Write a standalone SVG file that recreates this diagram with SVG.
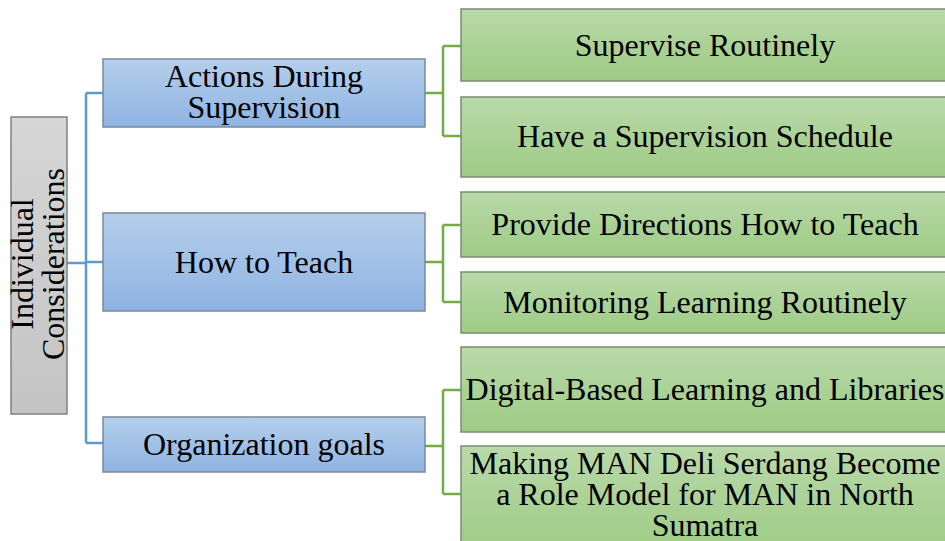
<svg xmlns="http://www.w3.org/2000/svg" width="945" height="541" viewBox="0 0 945 541">
  <defs>
    <linearGradient id="gGray" x1="0" y1="0" x2="0" y2="1">
      <stop offset="0" stop-color="#d6d6d6"/>
      <stop offset="1" stop-color="#c4c4c4"/>
    </linearGradient>
    <linearGradient id="gBlue" x1="0" y1="0" x2="0" y2="1">
      <stop offset="0" stop-color="#b5cfeb"/>
      <stop offset="1" stop-color="#8fb3e2"/>
    </linearGradient>
    <linearGradient id="gGreen" x1="0" y1="0" x2="0" y2="1">
      <stop offset="0" stop-color="#b9d9a9"/>
      <stop offset="1" stop-color="#9ecb84"/>
    </linearGradient>
  </defs>
  <style>
    .lbl { font-family: "Liberation Serif", "Times New Roman", serif; font-size: 32px; fill: #000; text-anchor: middle; }
    .root { fill: url(#gGray); stroke: #808080; stroke-width: 1.5; }
    .mid { fill: url(#gBlue); stroke: #7a8a9a; stroke-width: 1.5; }
    .leaf { fill: url(#gGreen); stroke: #7c8a74; stroke-width: 1.5; }
    .cb { fill: none; stroke: #5b9bd5; stroke-width: 2.5; }
    .cg { fill: none; stroke: #70ad47; stroke-width: 2.5; }
  </style>

  <g id="connectors">
    <path class="cb" d="M67 263 H86 M86 93 V443 M86 93 H103 M86 262 H103 M86 443 H103"/>
    <path class="cg" d="M425 93 H443 M443 46 V136 M443 46 H461 M443 136 H461"/>
    <path class="cg" d="M425 262 H443 M443 225 V302 M443 225 H461 M443 302 H461"/>
    <path class="cg" d="M425 446 H443 M443 390 V494 M443 390 H461 M443 494 H461"/>
  </g>

  <g id="individual-considerations">
    <rect class="root" x="11" y="117" width="56" height="297"/>
    <text class="lbl" transform="translate(33,264) rotate(-90)">Individual</text>
    <text class="lbl" transform="translate(64,264) rotate(-90)">Considerations</text>
  </g>

  <g id="actions-during-supervision">
    <rect class="mid" x="103" y="59" width="322" height="68"/>
    <text class="lbl" x="264" y="87">Actions During</text>
    <text class="lbl" x="264" y="118">Supervision</text>
  </g>

  <g id="how-to-teach">
    <rect class="mid" x="103" y="213" width="322" height="98"/>
    <text class="lbl" x="264" y="273">How to Teach</text>
  </g>

  <g id="organization-goals">
    <rect class="mid" x="103" y="417" width="322" height="55"/>
    <text class="lbl" x="264" y="455">Organization goals</text>
  </g>

  <g id="supervise-routinely">
    <rect class="leaf" x="461" y="9" width="488" height="72"/>
    <text class="lbl" x="705" y="56">Supervise Routinely</text>
  </g>

  <g id="supervision-schedule">
    <rect class="leaf" x="461" y="97" width="488" height="80"/>
    <text class="lbl" x="705" y="147">Have a Supervision Schedule</text>
  </g>

  <g id="provide-directions">
    <rect class="leaf" x="461" y="192" width="488" height="65"/>
    <text class="lbl" x="705" y="235">Provide Directions How to Teach</text>
  </g>

  <g id="monitoring-learning">
    <rect class="leaf" x="461" y="272" width="488" height="61"/>
    <text class="lbl" x="705" y="313">Monitoring Learning Routinely</text>
  </g>

  <g id="digital-learning">
    <rect class="leaf" x="461" y="347" width="488" height="85"/>
    <text class="lbl" x="705" y="400">Digital-Based Learning and Libraries</text>
  </g>

  <g id="role-model">
    <rect class="leaf" x="461" y="446" width="488" height="110"/>
    <text class="lbl" x="705" y="474">Making MAN Deli Serdang Become</text>
    <text class="lbl" x="705" y="505">a Role Model for MAN in North</text>
    <text class="lbl" x="705" y="536">Sumatra</text>
  </g>
</svg>
